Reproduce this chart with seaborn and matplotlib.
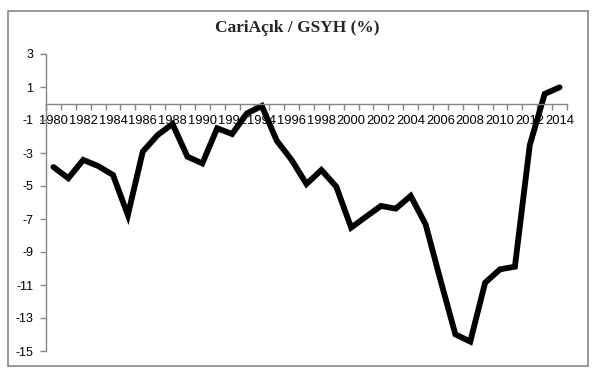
import numpy as np
import pandas as pd
import seaborn as sns
import matplotlib
matplotlib.use("Agg")
import matplotlib.pyplot as plt
from matplotlib.patches import Rectangle

sns.set_theme(style="white")
plt.rcParams['font.family'] = ['Liberation Sans', 'DejaVu Sans']

years = list(range(1980, 2015))
cari_acik = [-3.85, -4.53, -3.42, -3.79, -4.33, -6.76, -2.92, -1.91, -1.24, -3.22,
             -3.63, -1.50, -1.85, -0.60, -0.15, -2.25, -3.42, -4.88, -4.03, -5.04,
             -7.52, -6.86, -6.21, -6.37, -5.60, -7.32, -10.70, -13.99, -14.43, -10.86,
             -10.05, -9.89, -2.52, 0.58, 0.98]
y_ticks = list(range(-15, 4, 2))
x_labels = list(range(1980, 2015, 2))

df = pd.DataFrame({"Yil": years, "Oran": cari_acik})

gray = "#868686"
fig = plt.figure(figsize=(5.95, 3.77), dpi=100)
ax = fig.add_axes([46 / 595, 26 / 377, 521 / 595, 297 / 377])

sns.lineplot(data=df, x="Yil", y="Oran", ax=ax, color="black", linewidth=4.2,
             solid_joinstyle="miter", solid_capstyle="round")

ax.set_xlim(1979.5, 2014.5)
ax.set_ylim(-15, 3)
ax.set_xlabel("")
ax.set_ylabel("")

for s in ["top", "right"]:
    ax.spines[s].set_visible(False)
ax.spines["bottom"].set_position(("data", 0))
for s in ["left", "bottom"]:
    ax.spines[s].set_color(gray)
    ax.spines[s].set_linewidth(1.0)

ax.set_yticks(y_ticks)
ax.set_yticklabels([str(v) for v in y_ticks])
ax.tick_params(axis="y", which="major", direction="out", length=4, width=1,
               color=gray, labelsize=9, pad=5, left=True, labelcolor="black")

ax.set_xticks(x_labels)
ax.set_xticklabels([str(v) for v in x_labels])
ax.set_xticks(np.arange(1979.5, 2015, 1.0), minor=True)
ax.tick_params(axis="x", which="major", length=0, labelsize=9.3, pad=8,
               labelcolor="black")
ax.tick_params(axis="x", which="minor", direction="out", length=4, width=1,
               color=gray, bottom=True)

fig.text(0.5, 1 - 28 / 377, "CariAçık / GSYH (%)", ha="center", va="center",
         fontsize=12.5, fontweight="bold", family=["Liberation Serif", "DejaVu Serif"])

fig.patches.append(Rectangle((8 / 595, 11 / 377), 580 / 595, 355 / 377,
                             transform=fig.transFigure, fill=False,
                             edgecolor=gray, linewidth=1.2))

fig.savefig("out.png", dpi=100)
